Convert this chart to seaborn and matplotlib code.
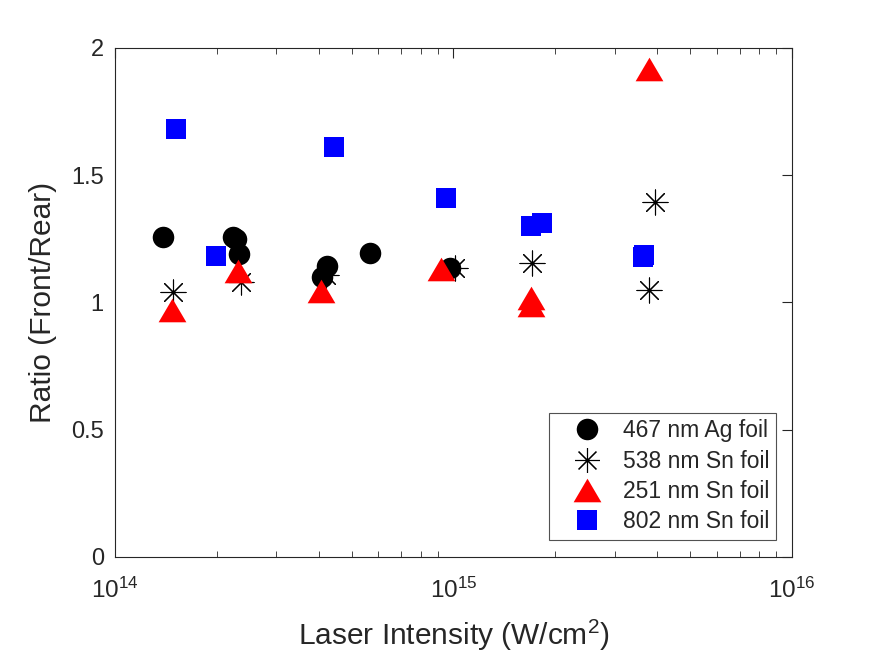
import numpy as np
import pandas as pd
import matplotlib
matplotlib.use("Agg")
import matplotlib.pyplot as plt
from matplotlib.lines import Line2D
import seaborn as sns

# 467 nm Ag foil
ag467_x = [1.39e14, 2.23e14, 2.28e14, 2.32e14, 4.09e14, 4.23e14, 5.66e14, 9.8e14]
ag467_y = [1.257, 1.257, 1.25, 1.19, 1.10, 1.143, 1.194, 1.136]
# 538 nm Sn foil
sn538_x = [1.48e14, 2.36e14, 4.2e14, 1.01e15, 1.71e15, 3.94e15, 3.79e15]
sn538_y = [1.041, 1.08, 1.108, 1.136, 1.155, 1.395, 1.049]
# 251 nm Sn foil
sn251_x = [1.47e14, 2.31e14, 4.06e14, 9.18e14, 1.69e15, 1.69e15, 3.79e15]
sn251_y = [0.972, 1.124, 1.046, 1.133, 1.018, 0.99, 1.917]
# 802 nm Sn foil
sn802_x = [1.51e14, 1.99e14, 4.43e14, 9.5e14, 1.69e15, 1.82e15, 3.63e15, 3.66e15]
sn802_y = [1.682, 1.183, 1.611, 1.411, 1.30, 1.312, 1.18, 1.188]

labels = ["467 nm Ag foil", "538 nm Sn foil", "251 nm Sn foil", "802 nm Sn foil"]

sns.set_style("white")
plt.rcParams['font.family'] = ['Liberation Sans', 'DejaVu Sans']
plt.rcParams['mathtext.fontset'] = 'custom'
plt.rcParams['mathtext.rm'] = 'Liberation Sans'
plt.rcParams['mathtext.it'] = 'Liberation Sans:italic'
dark = '#262626'

fig = plt.figure(figsize=(8.75, 6.56), dpi=100)
ax = fig.add_axes([0.1314, 0.151, 0.7737, 0.776])

tri = [(0, 0.85), (-1, -0.85), (1, -0.85)]
series = [
    (ag467_x, ag467_y, 'o', 'black', 15.5, 0),
    (sn538_x, sn538_y, (8, 2, 0), 'black', 18, 0.8),
    (sn251_x, sn251_y, tri, 'red', 20, 0),
    (sn802_x, sn802_y, 's', 'blue', 13.7, 0),
]
handles = []
for (xs, ys, mk, col, ms, lw), lab in zip(series, labels):
    df = pd.DataFrame({'x': xs, 'y': ys})
    sns.scatterplot(data=df, x='x', y='y', ax=ax, marker=mk, s=ms**2,
                    color=col, edgecolor=col, linewidth=lw, legend=False)
    handles.append(Line2D([], [], linestyle='none', marker=mk, markersize=ms,
                          color=col, markeredgecolor=col, markeredgewidth=lw,
                          label=lab))

ax.set_xscale('log')
ax.set_xlim(1e14, 1e16)
ax.set_ylim(0, 2)
ax.set_yticks([0, 0.5, 1, 1.5, 2])
ax.set_yticklabels(['0', '0.5', '1', '1.5', '2'])
ax.set_xlabel('Laser Intensity (W/cm$^2$)', fontsize=21.5, color=dark, labelpad=11)
ax.set_ylabel('Ratio (Front/Rear)', fontsize=21.5, color=dark, labelpad=10)

for sp in ax.spines.values():
    sp.set_visible(True)
    sp.set_color(dark)
    sp.set_linewidth(0.8)
ax.tick_params(which='both', direction='in', top=True, right=True,
               colors=dark, labelsize=17)
ax.tick_params(which='major', length=7, width=0.8)
ax.tick_params(which='minor', length=4, width=0.6, bottom=True, top=True)
ax.tick_params(axis='x', which='major', pad=15, labelsize=17.5)
ax.tick_params(axis='y', which='major', pad=8)
ax.xaxis.set_minor_locator(matplotlib.ticker.LogLocator(base=10, subs=np.arange(2, 10)))
ax.xaxis.set_minor_formatter(matplotlib.ticker.NullFormatter())

leg = ax.legend(handles=handles, loc='lower right', fontsize=16.5, frameon=True,
                fancybox=False, edgecolor=dark, borderpad=0.3, handletextpad=0.22,
                handlelength=2.7, labelspacing=0.315, borderaxespad=0,
                bbox_to_anchor=(0.9764, 0.0334))
leg.get_frame().set_linewidth(0.8)

fig.savefig('out.png', dpi=100)
